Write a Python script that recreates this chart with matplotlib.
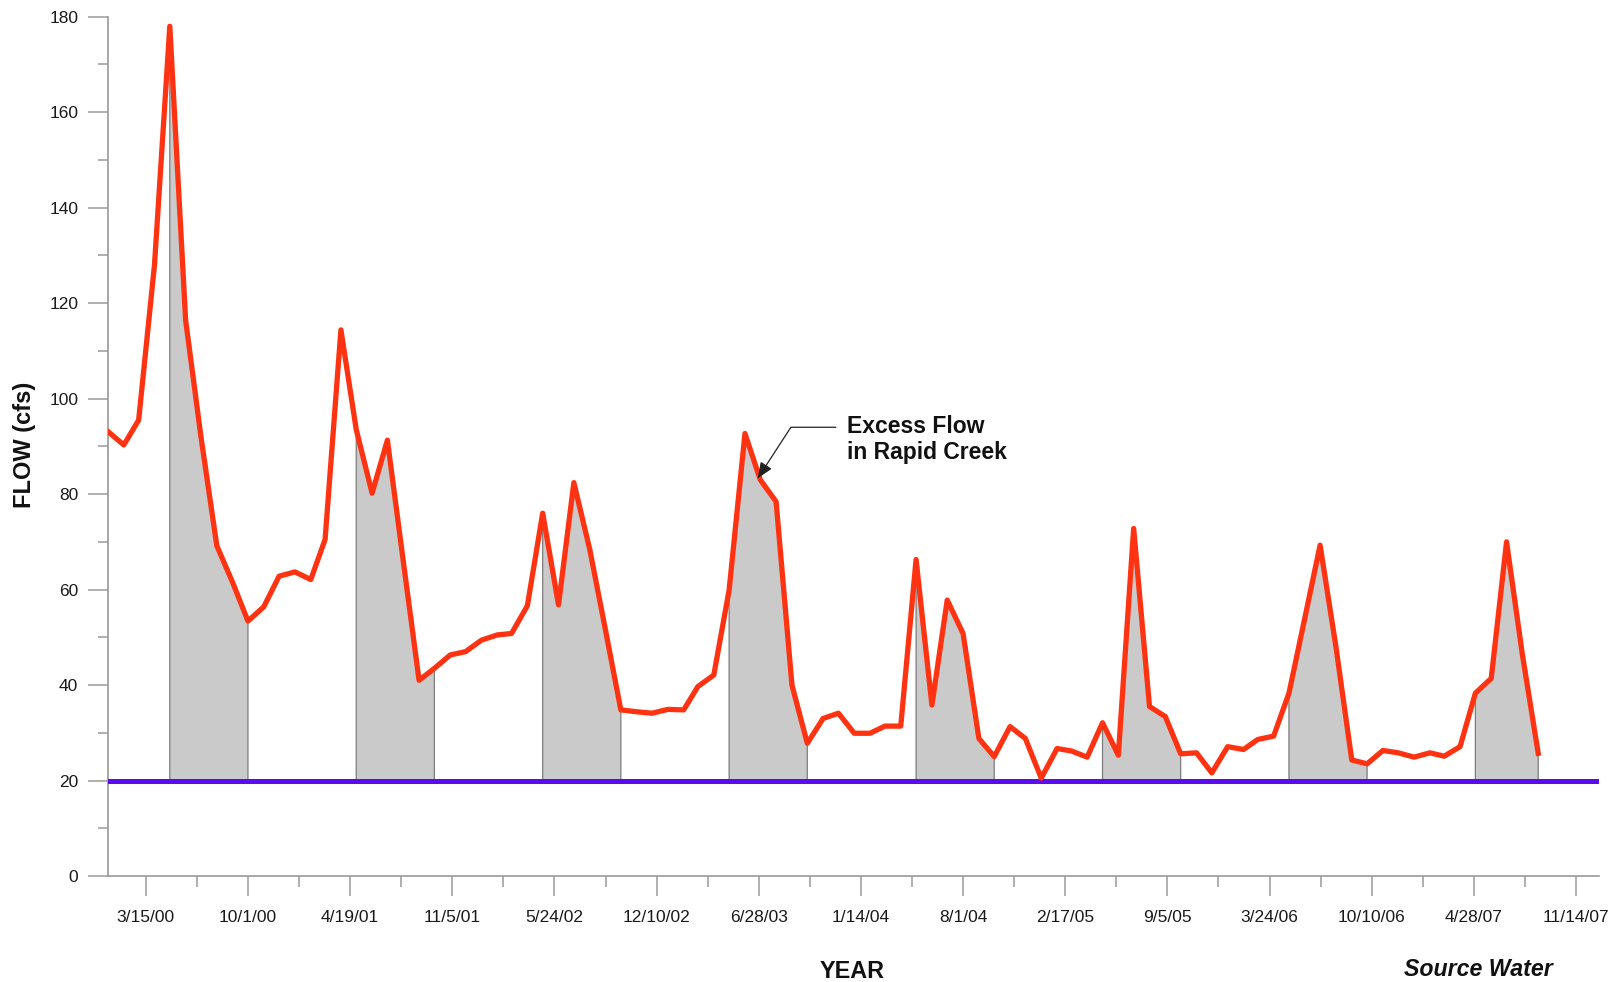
import matplotlib
matplotlib.use("Agg")
import matplotlib.pyplot as plt
import pandas as pd

plt.rcParams['font.family'] = ['Liberation Sans', 'DejaVu Sans']

# Monthly mean flow, Jan 2000 - Sep 2007 (cfs)
months = pd.date_range('2000-01-01', '2007-09-01', freq='MS')
flow_cfs = [
    93.1, 90.3, 95.5, 128.0, 178.0, 116.4, 92.0, 69.2, 61.5, 53.4, 56.4, 62.8,   # 2000
    63.7, 62.1, 70.5, 114.4, 93.5, 80.2, 91.3, 66.0, 41.0, 43.5, 46.3, 47.0,     # 2001
    49.4, 50.5, 50.8, 56.6, 76.0, 56.8, 82.4, 68.5, 51.5, 34.8, 34.4, 34.1,      # 2002
    34.9, 34.8, 39.7, 42.1, 59.9, 92.7, 83.0, 78.4, 40.0, 27.8, 33.0, 34.1,      # 2003
    29.9, 29.9, 31.4, 31.4, 66.3, 35.8, 57.8, 50.8, 28.8, 25.0, 31.3, 28.8,      # 2004
    20.5, 26.7, 26.2, 24.9, 32.1, 25.3, 72.8, 35.5, 33.4, 25.6, 25.8, 21.6,      # 2005
    27.1, 26.5, 28.6, 29.3, 38.3, 54.0, 69.3, 48.0, 24.3, 23.5, 26.3, 25.8,      # 2006
    24.9, 25.8, 25.1, 27.1, 38.3, 41.4, 70.0, 46.4, 25.7,                        # 2007
]
minimum_flow_cfs = 20
season_months = [5, 6, 7, 8, 9, 10]

tick_dates = ['2000-03-15', '2000-10-01', '2001-04-19', '2001-11-05', '2002-05-24',
              '2002-12-10', '2003-06-28', '2004-01-14', '2004-08-01', '2005-02-17',
              '2005-09-05', '2006-03-24', '2006-10-10', '2007-04-28', '2007-11-14']
tick_labels = ['3/15/00', '10/1/00', '4/19/01', '11/5/01', '5/24/02', '12/10/02',
               '6/28/03', '1/14/04', '8/1/04', '2/17/05', '9/5/05', '3/24/06',
               '10/10/06', '4/28/07', '11/14/07']

W, H = 1617, 982
fig = plt.figure(figsize=(W / 100, H / 100), dpi=100)
ax = fig.add_axes([108 / W, 1 - 876 / H, (1599 - 108) / W, (876 - 16.7) / H])

ax.set_xlim(pd.Timestamp('2000-01-01'), pd.Timestamp('2007-12-29'))
ax.set_ylim(0, 180)

# shaded excess flow during the May-October season
in_season = months.month.isin(season_months)
ax.fill_between(months, minimum_flow_cfs, flow_cfs, where=in_season,
                facecolor='#cacaca', edgecolor='#7c7c7c', linewidth=0.9, zorder=2)

ax.axhline(minimum_flow_cfs, color='#5a0cec', lw=3.6, zorder=3)
ax.plot(months, flow_cfs, color='#ff3311', lw=3.8, zorder=4)

# axes styling
for side in ('top', 'right'):
    ax.spines[side].set_visible(False)
for side in ('left', 'bottom'):
    ax.spines[side].set_color('#9a9a9a')
    ax.spines[side].set_linewidth(1.2)

major_pos = pd.to_datetime(tick_dates)
minor_pos = major_pos[:-1] + pd.Timedelta(days=100)
ax.set_xticks(major_pos)
ax.set_xticklabels(tick_labels)
ax.set_xticks(minor_pos, minor=True)
ax.set_yticks(range(0, 181, 20))
ax.set_yticks(range(10, 180, 20), minor=True)

ax.tick_params(which='both', direction='out', color='#9a9a9a', width=1.1,
               labelcolor='#1a1a1a', labelsize=12.5)
ax.tick_params(axis='x', which='major', length=14.4, pad=10)
ax.tick_params(axis='x', which='minor', length=7.8)
ax.tick_params(axis='y', which='major', length=14.4, pad=7)
ax.tick_params(axis='y', which='minor', length=7.2)

# callout
ax.annotate('', xy=(pd.Timestamp('2003-06-26'), 83.3),
            xytext=(pd.Timestamp('2003-11-26'), 94.0),
            arrowprops=dict(arrowstyle='-|>,head_length=0.6,head_width=0.25',
                            connectionstyle='angle,angleA=0,angleB=57,rad=0',
                            color='#222222', lw=0.9, shrinkA=0, shrinkB=0,
                            mutation_scale=16),
            zorder=6)
fig.text(846.7 / W, 1 - 439.5 / H, 'Excess Flow\nin Rapid Creek', fontsize=16.5,
         fontweight='bold', color='#111111', ha='left', va='center',
         linespacing=1.12)

fig.text(25 / W, 1 - 445 / H, 'FLOW (cfs)', rotation=90, fontsize=17,
         fontweight='bold', color='#111111', ha='center', va='center')
fig.text(852 / W, 1 - 971 / H, 'YEAR', fontsize=16.8, fontweight='bold',
         color='#111111', ha='center', va='center')
fig.text(1478 / W, 1 - 969 / H, 'Source Water', fontsize=16.7, fontweight='bold',
         fontstyle='italic', color='#111111', ha='center', va='center')

fig.savefig('out.png', dpi=100, facecolor='white')
